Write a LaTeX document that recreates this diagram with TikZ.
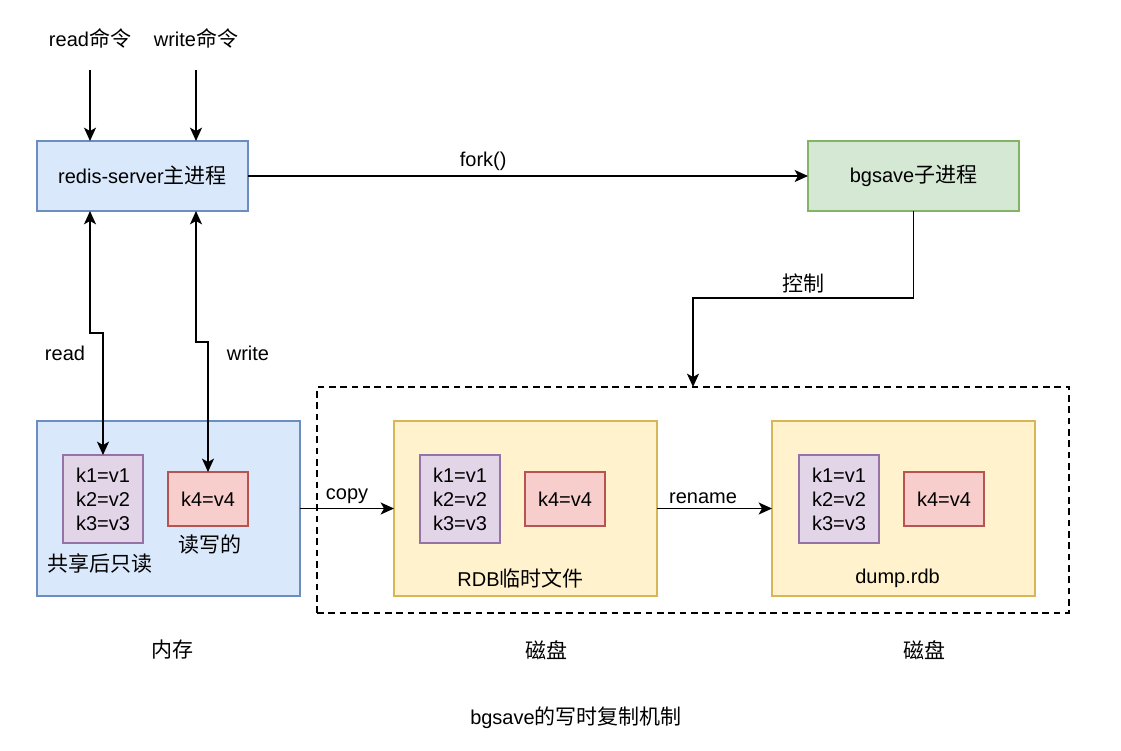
\documentclass[tikz,border=0pt]{standalone}
\usepackage{fontspec}
\setmainfont{Liberation Sans}
\newfontfamily\cjk[Scale=1.05]{Noto Sans CJK SC}
\usetikzlibrary{
  arrows.meta,
  calc,
  positioning
}
\definecolor{blueFill}{HTML}{DAE8FC}
\definecolor{blueLine}{HTML}{6C8EBF}
\definecolor{greenFill}{HTML}{D5E8D4}
\definecolor{greenLine}{HTML}{82B366}
\definecolor{yellowFill}{HTML}{FFF2CC}
\definecolor{yellowLine}{HTML}{D6B656}
\definecolor{purpleFill}{HTML}{E1D5E7}
\definecolor{purpleLine}{HTML}{9673A6}
\definecolor{redFill}{HTML}{F8CECC}
\definecolor{redLine}{HTML}{B85450}
\tikzset{
%
  % For normal lines.
  line/.style={
    line width=1.2pt},
%
  % For one-way arrows.
  flow/.style={
    line,
    -{Stealth[length=10pt,
              width=9pt,
              inset=2.5pt]}},
%
  % For read and write access, both ways.
  access/.style={
    line,
    {Stealth[length=10pt,
             width=9pt,
             inset=2.5pt]}-{Stealth[length=10pt,
                                    width=9pt,
                                    inset=2.5pt]}},
%
  % For boxes in general.
  box/.style={
    line,
    draw,
    align=center,
    inner sep=0pt,
    outer sep=0pt},
%
  % For the process boxes.
  main box/.style={
    box,
    draw=blueLine,
    fill=blueFill,
    minimum width=158.25pt,
    minimum height=52.5pt},
  child box/.style={
    main box,
    draw=greenLine,
    fill=greenFill},
%
  % For memory and files.
  mem box/.style={
    box,
    draw=blueLine,
    fill=blueFill,
    minimum width=197.25pt,
    minimum height=131.25pt},
  file box/.style={
    mem box,
    draw=yellowLine,
    fill=yellowFill},
%
  % For the key/value boxes.
  keys box/.style={
    box,
    draw=purpleLine,
    fill=purpleFill,
    minimum width=60pt,
    minimum height=66pt},
  hot box/.style={
    box,
    draw=redLine,
    fill=redFill,
    minimum width=60pt,
    minimum height=40.5pt},
%
  % For the disk frame.
  frame/.style={
    line,
    draw,
    dash pattern=on 5pt off 3.5pt,
    inner sep=0pt,
    outer sep=0pt,
    minimum width=564pt,
    minimum height=169.5pt}
}

\begin{document}
\begin{tikzpicture}[x=0.75pt, y=0.75pt,
                    font=\fontsize{15pt}{18pt}\selectfont]
  \useasboundingbox (0,0) rectangle (1121,-750);

  \node[main box] (R) at (142.5,-176) {redis-server{\cjk 主进程}};
  \node[child box] (B) [right=420pt of R] {bgsave{\cjk 子进程}};
  \node (RC) at (90,-38) {read{\cjk 命令}};
  \node (WC) at (196,-38) {write{\cjk 命令}};

  \node[frame] (S) at (693,-500) {};

  \node[mem box] (M) [below right=157.5pt and 0pt of R.south west] {};
  \node[file box] (T) [right=70.5pt of M] {};
  \node[file box] (D) [right=86.25pt of T] {};

  \node[keys box] (MK) [below right=25.5pt and 19.5pt of M.north west]
    {k1=v1\\k2=v2\\k3=v3};
  \node[hot box] (MH) [right=18.75pt of MK] {k4=v4};
  \node[keys box] (TK) [below right=25.5pt and 19.5pt of T.north west]
    {k1=v1\\k2=v2\\k3=v3};
  \node[hot box] (TH) [right=18.75pt of TK] {k4=v4};
  \node[keys box] (DK) [below right=25.5pt and 20.25pt of D.north west]
    {k1=v1\\k2=v2\\k3=v3};
  \node[hot box] (DH) [right=18.75pt of DK] {k4=v4};

  \node (MK tag) at ($(MK.south)+(-3,-20)$) {\cjk 共享后只读};
  \node (MH tag) at ($(MH.south)+(2,-19)$) {\cjk 读写的};
  \node (T tag) at ($(T.south)+(-5,18)$) {RDB{\cjk 临时文件}};
  \node (D tag) at ($(D.south)+(-6,18)$) {dump.rdb};

  \draw[flow] ([yshift=-24pt]RC.center) -- (RC |- R.north);
  \draw[flow] ([yshift=-24pt]WC.center) -- (WC |- R.north);
  \draw[flow] (R) -- (B)
    node[above, pos=0.42] {fork()};
  \draw[access] (RC |- R.south) -- ++(0,-122) -| (MK.north);
  \draw[access] (WC |- R.south) -- ++(0,-131) -| (MH.north);
  \draw[flow] (B.south) -- ++(0,-87)
    -| node[above, pos=0.25] {\cjk 控制} (S.north);
  \draw[flow] (M) -- (T)
    node[above, midway] {copy};
  \draw[flow] (T) -- (D)
    node[above, pos=0.4] {rename};

  \node (read tag) at (65,-353) {read};
  \node (write tag) at (248,-353) {write};

  \node (mem tag) at (172,-650) {\cjk 内存};
  \node (disk tag) at (546,-650) {\cjk 磁盘};
  \node (dump tag) at (924,-650) {\cjk 磁盘};
  \node (title) at (576,-718) {bgsave{\cjk 的写时复制机制}};
\end{tikzpicture}
\end{document}
